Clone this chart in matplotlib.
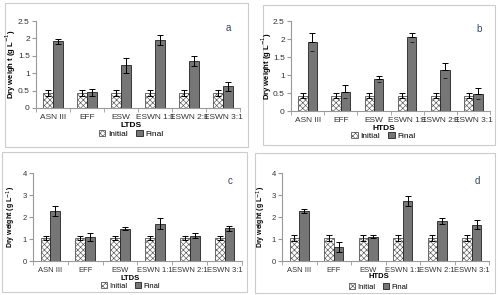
import numpy as np
import matplotlib
matplotlib.use("Agg")
import matplotlib.pyplot as plt
from matplotlib.patches import Rectangle, Patch

# data
categories = ["ASN III", "EFF", "ESW", "ESWN 1:1", "ESWN 2:1", "ESWN 3:1"]

a_initial = [0.43, 0.43, 0.43, 0.43, 0.43, 0.43]
a_initial_err = [0.08, 0.08, 0.08, 0.08, 0.08, 0.08]
a_final = [1.92, 0.45, 1.23, 1.95, 1.35, 0.63]
a_final_err = [0.07, 0.10, 0.21, 0.15, 0.15, 0.13]

b_initial = [0.43, 0.43, 0.43, 0.43, 0.43, 0.43]
b_initial_err = [0.08, 0.08, 0.08, 0.08, 0.08, 0.08]
b_final = [1.92, 0.54, 0.88, 2.05, 1.13, 0.48]
b_final_err = [0.24, 0.18, 0.08, 0.12, 0.20, 0.15]

c_initial = [1.05, 1.05, 1.05, 1.05, 1.05, 1.05]
c_initial_err = [0.10, 0.10, 0.10, 0.10, 0.10, 0.10]
c_final = [2.27, 1.10, 1.47, 1.70, 1.15, 1.48]
c_final_err = [0.22, 0.17, 0.08, 0.25, 0.12, 0.12]

d_initial = [1.05, 1.05, 1.05, 1.05, 1.05, 1.05]
d_initial_err = [0.12, 0.12, 0.12, 0.12, 0.12, 0.12]
d_final = [2.28, 0.63, 1.10, 2.72, 1.82, 1.65]
d_final_err = [0.10, 0.22, 0.06, 0.22, 0.12, 0.20]

W, H = 500, 295
plt.rcParams['font.family'] = ['Liberation Sans', 'DejaVu Sans']
plt.rcParams['hatch.color'] = '#aaaaaa'
plt.rcParams['hatch.linewidth'] = 0.45
fig = plt.figure(figsize=(W / 100, H / 100), dpi=100)


def px(x0, y0, x1, y1):
    # pixel box (top-left origin) -> figure fraction
    return [x0 / W, 1 - y1 / H, (x1 - x0) / W, (y1 - y0) / H]


def panel(box, ax_box, init, init_err, fin, fin_err, ymax, ystep, ylabel, xlabel, letter,
          lab_y, leg_y, ylab_x, fs, upper_only=False):
    b = px(*box)
    fig.patches.append(Rectangle((b[0], b[1]), b[2], b[3], transform=fig.transFigure,
                                 fill=False, edgecolor='#cccccc', linewidth=0.8))
    ax = fig.add_axes(px(*ax_box))
    x = np.arange(len(categories))
    w = 0.28
    ekw = dict(elinewidth=0.7, capsize=2, capthick=0.7)
    ax.bar(x - w / 2, init, w, color='white', edgecolor='#555555', hatch='xxxxxx',
           linewidth=0.6, yerr=init_err, error_kw=ekw)
    fin = np.array(fin)
    fin_err = np.array(fin_err)
    if upper_only:
        # panel b: only upper whisker, lower end shown as a dash inside the bar
        ax.bar(x + w / 2, fin, w, color='#767676', edgecolor='#222222', linewidth=0.6,
               yerr=[np.zeros_like(fin_err), fin_err], error_kw=ekw)
        ax.plot(x + w / 2, fin - fin_err, linestyle='none', marker='_', color='#222222',
                markersize=3, markeredgewidth=0.7)
    else:
        ax.bar(x + w / 2, fin, w, color='#767676', edgecolor='#222222',
               linewidth=0.6, yerr=fin_err, error_kw=ekw)
    ax.set_xlim(-0.5, len(categories) - 0.5)
    ax.set_ylim(0, ymax)
    ticks = np.arange(0, ymax + 0.01, ystep)
    ax.set_yticks(ticks)
    ax.set_yticklabels([f"{v:g}" for v in ticks])
    ax.set_xticks(x)
    ax.set_xticklabels(categories)
    ax.set_xticks(np.arange(-0.5, len(categories), 1), minor=True)
    ax.tick_params(axis='x', which='major', length=0, labelsize=fs, pad=4, colors='#333333')
    ax.tick_params(axis='x', which='minor', length=3, color='#999999')
    ax.tick_params(axis='y', labelsize=fs, length=3, pad=1.5, color='#999999', colors='#333333')
    for s in ['top', 'right']:
        ax.spines[s].set_visible(False)
    for s in ['left', 'bottom']:
        ax.spines[s].set_color('#999999')
        ax.spines[s].set_linewidth(0.8)
    cy = (ax_box[1] + ax_box[3]) / 2
    fig.text(ylab_x / W, 1 - cy / H, ylabel, fontsize=fs - 0.5, fontweight='bold',
             rotation=90, ha='center', va='center')
    cx = (ax_box[0] + ax_box[2]) / 2 - 7
    fig.text(cx / W, 1 - lab_y / H, xlabel, fontsize=fs, fontweight='bold',
             ha='center', va='center')
    ax.text(0.93, 0.88, letter, transform=ax.transAxes, fontsize=7, color='#334466')
    handles = [Patch(facecolor='white', edgecolor='#555555', hatch='xxxxxx', linewidth=0.6),
               Patch(facecolor='#767676', edgecolor='#222222', linewidth=0.6)]
    fig.legend(handles, ['Initial', 'Final'], loc='center', bbox_to_anchor=(cx / W, 1 - leg_y / H),
               ncol=2, frameon=False, fontsize=fs, handlelength=0.8, handleheight=0.8,
               handletextpad=0.3, columnspacing=1.0, borderaxespad=0, borderpad=0)
    return ax


panel((5, 3, 248, 147), (36, 21, 240, 108), a_initial, a_initial_err, a_final, a_final_err,
      2.5, 0.5, "Dry weigh t (g L$^{-1}$)", "LTDS", "a", 126, 134, 11, 6)
panel((263, 5, 495, 145), (291, 21, 490, 111), b_initial, b_initial_err, b_final, b_final_err,
      2.5, 0.5, "Dry weight (g L$^{-1}$)", "HTDS", "b", 128, 136, 267, 6, upper_only=True)
panel((2, 152, 247, 292), (33, 173, 242, 261), c_initial, c_initial_err, c_final, c_final_err,
      4, 1, "Dry weight (g L$^{-1}$)", "LTDS", "c", 279, 286, 11, 5.5)
panel((255, 153, 495, 293), (282, 173, 489, 261), d_initial, d_initial_err, d_final, d_final_err,
      4, 1, "Dry weight (g L$^{-1}$)", "HTDS", "d", 277, 287, 261, 5.5)

fig.savefig("out.png", dpi=100)
